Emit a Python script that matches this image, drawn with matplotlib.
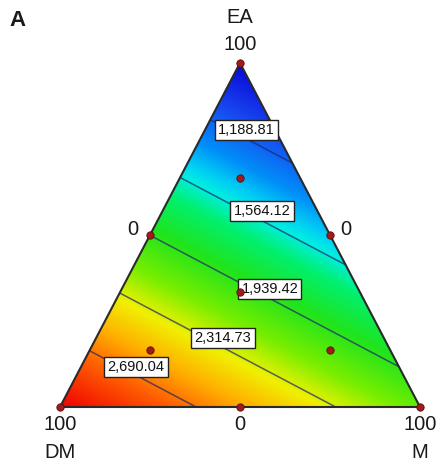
import numpy as np
import matplotlib
matplotlib.use("Agg")
import matplotlib.pyplot as plt
from matplotlib.colors import LinearSegmentedColormap
from matplotlib.patches import Polygon

plt.rcParams["font.family"] = ["Liberation Sans", "DejaVu Sans"]

# Components (EA at the top, DM bottom-left, M bottom-right)
components = ["EA", "DM", "M"]

# Linear mixture model: response at each pure component
coef_EA = 820.0
coef_DM = 3056.0
coef_M = 2088.0

# Contour levels shown on the plot
levels = [1188.81, 1564.12, 1939.42, 2314.73, 2690.04]

# Design points (EA, DM, M) fractions
design_EA = [1, 0, 0, 0.5, 0.5, 0, 1/3, 2/3, 1/6, 1/6]
design_DM = [0, 1, 0, 0.5, 0, 0.5, 1/3, 1/6, 2/3, 1/6]
design_M  = [0, 0, 1, 0, 0.5, 0.5, 1/3, 1/6, 1/6, 2/3]

# label anchor points (x, y) in the triangle's own coordinates
label_pos = [(0.517, 0.805), (0.561, 0.570), (0.583, 0.343),
             (0.453, 0.201), (0.211, 0.116)]


def to_xy(ea, dm, m):
    ea = np.asarray(ea, float)
    m = np.asarray(m, float)
    return m + 0.5 * ea, ea


def response(ea, dm, m):
    return coef_EA * ea + coef_DM * dm + coef_M * m


cmap = LinearSegmentedColormap.from_list("mix", [
    (0.000, "#0808d8"),
    (0.120, "#1848f0"),
    (0.230, "#0090f8"),
    (0.290, "#00d0f4"),
    (0.325, "#00eee0"),
    (0.385, "#00f070"),
    (0.483, "#20e41c"),
    (0.595, "#78ee00"),
    (0.684, "#f0f000"),
    (0.774, "#ffb000"),
    (0.863, "#ff6000"),
    (1.000, "#f00000"),
])

fig = plt.figure(figsize=(4.39, 4.66), dpi=100)
ax = fig.add_axes([0, 0, 1, 1])
ax.set_xlim(-60 / 360, 379 / 360)
ax.set_ylim(-59 / 344, 407 / 344)
ax.axis("off")

# response surface on a grid
n = 600
gx, gy = np.meshgrid(np.linspace(0, 1, n), np.linspace(0, 1, n))
ea = gy
m = gx - 0.5 * gy
dm = 1 - ea - m
z = response(ea, dm, m)
outside = (m < -1e-3) | (dm < -1e-3)
zm = np.ma.masked_where(outside, z)

tri_x, tri_y = to_xy([1, 0, 0], [0, 1, 0], [0, 0, 1])
tri = Polygon(np.column_stack([tri_x, tri_y]), closed=True,
              facecolor="none", edgecolor="#2a2a2a", lw=1.5, zorder=5)
ax.add_patch(tri)

im = ax.imshow(z, origin="lower", extent=(0, 1, 0, 1), cmap=cmap,
               vmin=coef_EA, vmax=coef_DM, interpolation="bilinear",
               aspect="auto", zorder=1)
im.set_clip_path(tri)

ax.contour(gx, gy, zm, levels=levels, colors="#1c2470", linewidths=1.1,
           alpha=0.7, zorder=3)

# contour value boxes
for lev, (lx, ly) in zip(levels, label_pos):
    ax.text(lx, ly, f"{lev:,.2f}", fontsize=10.5, ha="center", va="center",
            color="#111111", zorder=7,
            bbox=dict(boxstyle="square,pad=0.22", fc="white",
                      ec="#222222", lw=1.0))

# design points
px, py = to_xy(design_EA, design_DM, design_M)
ax.scatter(px, py, s=28, color="#a01c1c", edgecolors="#5a0c0c",
           linewidths=0.6, zorder=8, clip_on=False)

# axis labels at vertices and edge midpoints
tc = "#1a1a1a"
fs = 14.5
ax.text(0.5, 1.0 + 46 / 344, components[0], fontsize=fs, ha="center",
        va="center", color=tc)
ax.text(0.5, 1.0 + 19 / 344, "100", fontsize=fs, ha="center",
        va="center", color=tc)
ax.text(0.0, -18 / 344, "100", fontsize=fs, ha="center", va="center",
        color=tc)
ax.text(0.0, -45 / 344, components[1], fontsize=fs, ha="center",
        va="center", color=tc)
ax.text(1.0, -18 / 344, "100", fontsize=fs, ha="center", va="center",
        color=tc)
ax.text(1.0, -45 / 344, components[2], fontsize=fs, ha="center",
        va="center", color=tc)
ax.text(0.5, -18 / 344, "0", fontsize=fs, ha="center", va="center",
        color=tc)
ax.text(0.25 - 17 / 360, 0.5 + 6 / 344, "0", fontsize=fs, ha="center",
        va="center", color=tc)
ax.text(0.75 + 16 / 360, 0.5 + 6 / 344, "0", fontsize=fs, ha="center",
        va="center", color=tc)

fig.text(18 / 439, 1 - 20 / 466, "A", fontsize=16, fontweight="bold",
         ha="center", va="center", color=tc)

fig.savefig("out.png", dpi=100)
